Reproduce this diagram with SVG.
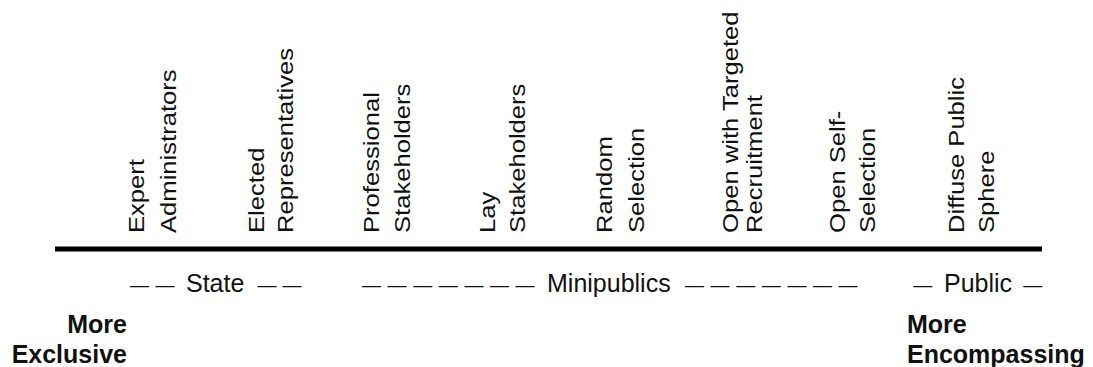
<svg xmlns="http://www.w3.org/2000/svg" width="1093" height="367" viewBox="0 0 1093 367">
  <style>
    text { font-family: "Liberation Sans", Arial, sans-serif; fill: #111; }
    .v { font-size: 25.6px; }
    .h { font-size: 25px; }
    .d { font-size: 19px; }
    .b { font-size: 25px; font-weight: bold; }
    .axis { stroke: #000; stroke-width: 5; fill: none; }
  </style>
  <rect width="1093" height="367" fill="#fff"/>
  <g id="connectors">
    <line class="axis" x1="55" y1="249" x2="1042" y2="249"/>
  </g>
  <g id="expert-administrators">
    <text class="v" transform="translate(143.5,233) rotate(-90) scale(1,0.88)">Expert</text>
    <text class="v" transform="translate(175.5,233) rotate(-90) scale(1,0.88)">Administrators</text>
  </g>
  <g id="elected-representatives">
    <text class="v" transform="translate(263.5,233) rotate(-90) scale(1,0.88)">Elected</text>
    <text class="v" transform="translate(292.5,233) rotate(-90) scale(1,0.88)">Representatives</text>
  </g>
  <g id="professional-stakeholders">
    <text class="v" transform="translate(378.5,233) rotate(-90) scale(1,0.88)">Professional</text>
    <text class="v" transform="translate(410,233) rotate(-90) scale(1,0.88)">Stakeholders</text>
  </g>
  <g id="lay-stakeholders">
    <text class="v" transform="translate(495,233) rotate(-90) scale(1,0.88)">Lay</text>
    <text class="v" transform="translate(525,233) rotate(-90) scale(1,0.88)">Stakeholders</text>
  </g>
  <g id="random-selection">
    <text class="v" transform="translate(611.5,233) rotate(-90) scale(1,0.88)">Random</text>
    <text class="v" transform="translate(643.5,233) rotate(-90) scale(1,0.88)">Selection</text>
  </g>
  <g id="open-targeted">
    <text class="v" transform="translate(738,233) rotate(-90) scale(1,0.88)">Open with Targeted</text>
    <text class="v" transform="translate(761.5,233) rotate(-90) scale(1,0.88)">Recruitment</text>
  </g>
  <g id="open-self-selection">
    <text class="v" transform="translate(845,233) rotate(-90) scale(1,0.88)">Open Self-</text>
    <text class="v" transform="translate(875,233) rotate(-90) scale(1,0.88)">Selection</text>
  </g>
  <g id="diffuse-public-sphere">
    <text class="v" transform="translate(963.5,233) rotate(-90) scale(1,0.88)">Diffuse Public</text>
    <text class="v" transform="translate(993.5,233) rotate(-90) scale(1,0.88)">Sphere</text>
  </g>
  <g id="state-label">
    <text class="h" y="292.3"><tspan class="d" x="130" dy="-1.5">— </tspan><tspan class="d" x="155.6">— </tspan><tspan x="186" dy="1.5">State </tspan><tspan class="d" x="257.5" dy="-1.5">— </tspan><tspan class="d" x="282.5">—</tspan></text>
  </g>
  <g id="minipublics-label">
    <text class="h" y="292.3"><tspan class="d" x="362" dy="-1.5">— </tspan><tspan class="d" x="387.6">— </tspan><tspan class="d" x="413.2">— </tspan><tspan class="d" x="438.8">— </tspan><tspan class="d" x="464.4">— </tspan><tspan class="d" x="490">— </tspan><tspan class="d" x="515.6">— </tspan><tspan x="547" dy="1.5">Minipublics </tspan><tspan class="d" x="685" dy="-1.5">— </tspan><tspan class="d" x="710.6">— </tspan><tspan class="d" x="736.2">— </tspan><tspan class="d" x="761.8">— </tspan><tspan class="d" x="787.4">— </tspan><tspan class="d" x="813">— </tspan><tspan class="d" x="838.6">—</tspan></text>
  </g>
  <g id="public-label">
    <text class="h" y="292.3"><tspan class="d" x="913.3" dy="-1.5">— </tspan><tspan x="944" dy="1.5">Public </tspan><tspan class="d" x="1023.3" dy="-1.5">—</tspan></text>
  </g>
  <g id="more-exclusive">
    <text class="b" x="127" y="333" text-anchor="end">More</text>
    <text class="b" x="127" y="363" text-anchor="end">Exclusive</text>
  </g>
  <g id="more-encompassing">
    <text class="b" x="907" y="333">More</text>
    <text class="b" x="907" y="363">Encompassing</text>
  </g>
</svg>
